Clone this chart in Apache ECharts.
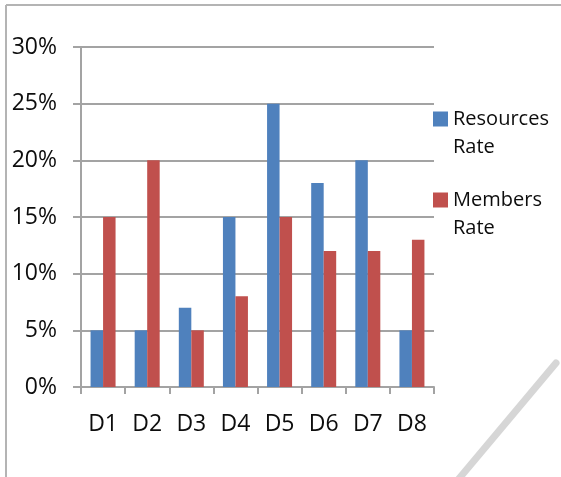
<!DOCTYPE html>
<html>
<head>
<meta charset="utf-8">
<script src="https://cdn.jsdelivr.net/npm/echarts@6/dist/echarts.min.js"></script>
<style>
  html, body { margin: 0; padding: 0; background: #fff; }
  #chart { width: 561px; height: 477px; }
</style>
</head>
<body>
<div id="chart"></div>
<script>
// Categories and rates (percent)
const categories = ['D1', 'D2', 'D3', 'D4', 'D5', 'D6', 'D7', 'D8'];
const resourcesRate = [5, 5, 7, 15, 25, 18, 20, 5];
const membersRate = [15, 20, 5, 8, 15, 12, 12, 13];
const seriesNames = ['Resources Rate', 'Members Rate'];

const FONT = '"Open Sans", sans-serif';
const GRID_COLOR = '#a3a3a3';
const TEXT_COLOR = '#0d0d0d';

const chart = echarts.init(document.getElementById('chart'), null, { renderer: 'canvas' });

// One legend per series so each entry can sit at its own spot.
// A leading blank line keeps the swatch level with the first text line.
function legendFor(name, top) {
  return {
    data: [name],
    orient: 'vertical',
    left: 433,
    top: top,
    padding: 0,
    itemWidth: 15,
    itemHeight: 15,
    itemGap: 0,
    icon: 'rect',
    selectedMode: false,
    formatter: n => '\n' + n.replace(' ', '\n'),
    textStyle: {
      fontFamily: FONT,
      fontSize: 20,
      color: TEXT_COLOR,
      lineHeight: 28
    }
  };
}

chart.setOption({
  animation: false,
  backgroundColor: '#fff',
  color: ['#4F81BD', '#C0504D'],
  grid: { left: 81, right: 127, top: 47, bottom: 90, containLabel: false },
  legend: [legendFor(seriesNames[0], 77), legendFor(seriesNames[1], 158)],
  xAxis: {
    type: 'category',
    data: categories,
    axisLine: { lineStyle: { color: GRID_COLOR, width: 2 } },
    axisTick: { show: true, length: 7, alignWithLabel: false, lineStyle: { color: GRID_COLOR, width: 2 } },
    axisLabel: { fontFamily: FONT, fontSize: 23, color: TEXT_COLOR, margin: 26 },
    splitLine: { show: false }
  },
  yAxis: {
    type: 'value',
    min: 0,
    max: 30,
    interval: 5,
    axisLine: { show: true, lineStyle: { color: GRID_COLOR, width: 2 } },
    axisTick: { show: true, length: 8, lineStyle: { color: GRID_COLOR, width: 2 } },
    axisLabel: { fontFamily: FONT, fontSize: 23, color: TEXT_COLOR, margin: 24, formatter: v => v + '%' },
    splitLine: { show: true, lineStyle: { color: GRID_COLOR, width: 2 } }
  },
  series: [
    { name: seriesNames[0], type: 'bar', data: resourcesRate, barWidth: 12.5, barGap: '0%' },
    { name: seriesNames[1], type: 'bar', data: membersRate, barWidth: 12.5, barGap: '0%' }
  ],
  graphic: [
    // page frame: left and top edges
    { type: 'line', shape: { x1: 6, y1: 5, x2: 6, y2: 477 }, style: { stroke: '#b4b4b4', lineWidth: 2 }, silent: true },
    { type: 'line', shape: { x1: 6, y1: 5, x2: 561, y2: 5 }, style: { stroke: '#b4b4b4', lineWidth: 2 }, silent: true },
    // diagonal page-curl stroke in the lower right corner
    { type: 'line', shape: { x1: 556, y1: 363, x2: 457, y2: 481 }, style: { stroke: '#d6d6d6', lineWidth: 7, lineCap: 'round' }, silent: true }
  ]
});
</script>
</body>
</html>
